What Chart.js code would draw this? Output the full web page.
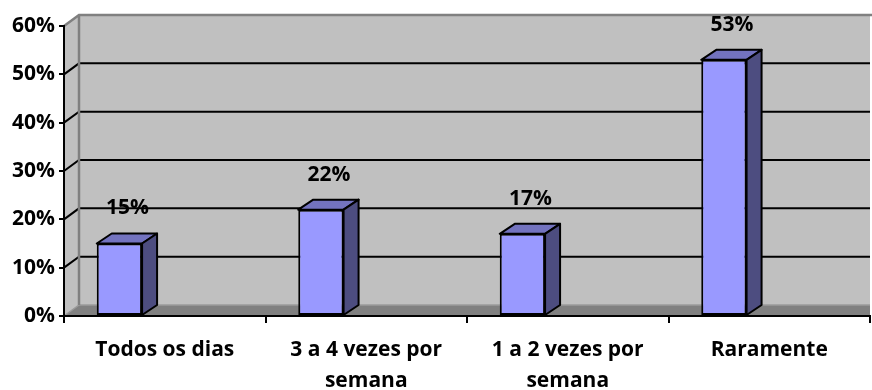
<!DOCTYPE html>
<html>
<head>
<meta charset="utf-8">
<script src="https://cdn.jsdelivr.net/npm/chart.js@4"></script>
<style>
  html, body { margin: 0; padding: 0; background: #fff; }
  #wrap { width: 872px; height: 390px; }
</style>
</head>
<body>
<div id="wrap"><canvas id="chart"></canvas></div>
<script>
// Chart data
const categories = ['Todos os dias', ['3 a 4 vezes por', 'semana'], ['1 a 2 vezes por', 'semana'], 'Raramente'];
const percentages = [15, 22, 17, 53];
const yTicks = [0, 10, 20, 30, 40, 50, 60];

// 3D look
const depthX = 15;
const depthY = 11;
const fontFamily = "'Open Sans', sans-serif";
const labelFont = "bold 21px 'Open Sans'";

// Back wall, side wall, floor and gridlines, drawn before the axes
const wallPlugin = {
    id: 'wall3d',
    beforeDraw(chart) {
        const ctx = chart.ctx;
        const area = chart.chartArea;
        const y = chart.scales.y;
        const left = area.left, right = area.right, top = area.top, bottom = area.bottom;

        ctx.save();
        // walls
        ctx.fillStyle = '#C0C0C0';
        ctx.beginPath();
        ctx.moveTo(left, bottom);
        ctx.lineTo(left, top);
        ctx.lineTo(left + depthX, top - depthY);
        ctx.lineTo(right, top - depthY);
        ctx.lineTo(right, bottom);
        ctx.closePath();
        ctx.fill();

        // floor
        ctx.fillStyle = '#808080';
        ctx.beginPath();
        ctx.moveTo(left, bottom);
        ctx.lineTo(left + depthX, bottom - depthY);
        ctx.lineTo(right, bottom - depthY);
        ctx.lineTo(right, bottom);
        ctx.closePath();
        ctx.fill();
        ctx.strokeStyle = '#9A9A9A';
        ctx.lineWidth = 1.5;
        ctx.beginPath();
        ctx.moveTo(left, bottom);
        ctx.lineTo(left + depthX, bottom - depthY);
        ctx.lineTo(right, bottom - depthY);
        ctx.stroke();

        // gridlines on side and back wall
        ctx.strokeStyle = '#000';
        ctx.lineWidth = 2;
        yTicks.forEach(v => {
            if (v === 0 || v === yTicks[yTicks.length - 1]) return;
            const py = y.getPixelForValue(v);
            ctx.beginPath();
            ctx.moveTo(left, py);
            ctx.lineTo(left + depthX, py - depthY);
            ctx.lineTo(right, py - depthY);
            ctx.stroke();
        });

        // wall border
        ctx.strokeStyle = '#808080';
        ctx.lineWidth = 2.5;
        ctx.beginPath();
        ctx.moveTo(left, top);
        ctx.lineTo(left + depthX, top - depthY);
        ctx.lineTo(right + 2, top - depthY);
        ctx.moveTo(left + depthX, top - depthY);
        ctx.lineTo(left + depthX, bottom - depthY);
        ctx.stroke();
        ctx.restore();
    },
    afterDatasetsDraw(chart) {
        const ctx = chart.ctx;
        const meta = chart.getDatasetMeta(0);
        ctx.save();
        ctx.lineWidth = 2;
        ctx.strokeStyle = '#000';
        ctx.lineJoin = 'round';
        meta.data.forEach((bar, i) => {
            const p = bar.getProps(['x', 'y', 'base', 'width'], true);
            const l = p.x - p.width / 2, r = p.x + p.width / 2;
            // top face
            ctx.fillStyle = '#7373BF';
            ctx.beginPath();
            ctx.moveTo(l, p.y);
            ctx.lineTo(l + depthX, p.y - depthY + 1);
            ctx.lineTo(r + depthX, p.y - depthY + 1);
            ctx.lineTo(r, p.y);
            ctx.closePath();
            ctx.fill();
            ctx.stroke();
            // side face
            ctx.fillStyle = '#4D4D80';
            ctx.beginPath();
            ctx.moveTo(r, p.y);
            ctx.lineTo(r + depthX, p.y - depthY + 1);
            ctx.lineTo(r + depthX, p.base - depthY + 1);
            ctx.lineTo(r, p.base);
            ctx.closePath();
            ctx.fill();
            ctx.stroke();
            // value label
            ctx.fillStyle = '#000';
            ctx.font = labelFont;
            ctx.textAlign = 'center';
            ctx.textBaseline = 'middle';
            ctx.fillText(percentages[i] + '%', p.x + 8, p.y - 35);
        });
        ctx.restore();
    }
};

new Chart(document.getElementById('chart'), {
    type: 'bar',
    data: {
        labels: categories,
        datasets: [{
            data: percentages,
            backgroundColor: '#9999FF',
            borderColor: '#000',
            borderWidth: 2,
            borderSkipped: false
        }, {
            // empty slot: keeps the front face left of the category centre, as in the 3D original
            data: categories.map(() => null)
        }]
    },
    options: {
        responsive: true,
        maintainAspectRatio: false,
        animation: false,
        categoryPercentage: 0.9,
        barPercentage: 0.5,
        layout: { padding: { top: 26, right: 2, left: 0, bottom: 0 } },
        plugins: {
            legend: { display: false },
            tooltip: { enabled: false }
        },
        scales: {
            x: {
                grid: { offset: true, drawOnChartArea: false, color: '#000', lineWidth: 2, tickLength: 7 },
                border: { color: '#000', width: 2 },
                ticks: {
                    color: '#000',
                    font: { family: fontFamily, weight: 'bold', size: 21, lineHeight: 1.45 },
                    maxRotation: 0,
                    autoSkip: false,
                    padding: 12
                },
                afterFit(scale) { scale.height = 74; }
            },
            y: {
                min: 0,
                max: 60,
                afterBuildTicks(scale) { scale.ticks = yTicks.map(v => ({ value: v })); },
                grid: { drawOnChartArea: false, color: '#000', lineWidth: 2, tickLength: 5 },
                border: { color: '#000', width: 2 },
                ticks: {
                    color: '#000',
                    font: { family: fontFamily, weight: 'bold', size: 21 },
                    padding: 4,
                    callback: v => v + '%'
                },
                afterFit(scale) { scale.width = 64; }
            }
        }
    },
    plugins: [wallPlugin]
});
</script>
</body>
</html>
